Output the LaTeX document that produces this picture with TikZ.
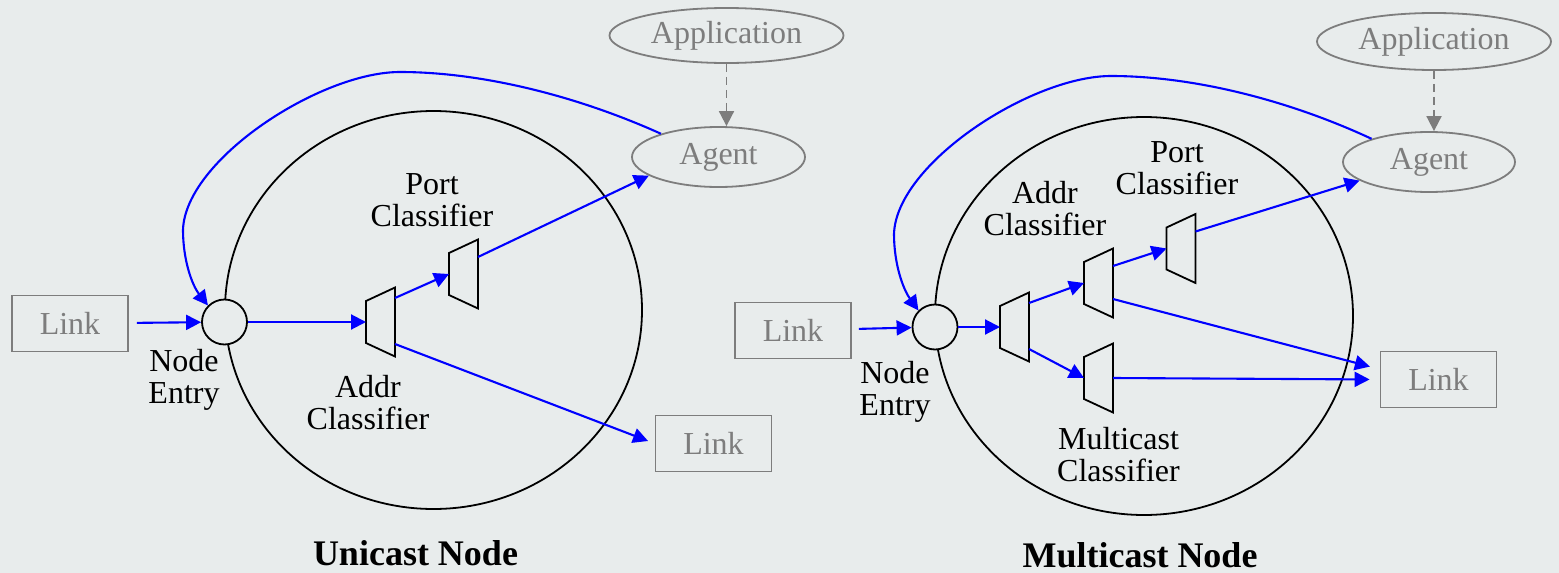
\documentclass[tikz,border=0pt]{standalone}
\usepackage{fontspec}
\setmainfont{Liberation Serif}
\usetikzlibrary{shapes.geometric,arrows.meta,calc}
\definecolor{bgc}{RGB}{232,236,236}
\definecolor{grayc}{RGB}{125,125,125}
\definecolor{flowc}{RGB}{0,0,255}
\tikzset{
  lw/.style={line width=1.8pt},
  bigring/.style={ellipse,draw=black,lw,inner sep=0pt},
  entryc/.style={circle,draw=black,fill=bgc,lw,minimum size=45pt,inner sep=0pt},
  linkbox/.style={draw=grayc,text=grayc,lw,minimum width=116pt,minimum height=56pt,inner sep=0pt,font=\fontsize{32}{32}\selectfont},
  grayell/.style={ellipse,draw=grayc,text=grayc,lw,inner sep=0pt,font=\fontsize{32}{32}\selectfont},
  flow/.style={draw=flowc,line width=2.1pt,-{Triangle[length=15pt,width=15pt]}},
  dashflow/.style={draw=grayc,lw,dash pattern=on 8pt off 5pt,-{Triangle[length=15pt,width=15pt]}},
  trapline/.style={draw=black,lw,line join=miter},
  lbl/.style={align=center,inner sep=0pt,font=\fontsize{32}{32}\selectfont},
  ttl/.style={anchor=base,inner sep=0pt,font=\fontsize{36}{40}\selectfont\bfseries},
  trap/.pic={
    \draw[trapline] (-14.5,-21) -- (14.5,-34.5) -- (14.5,34.5) -- (-14.5,21) -- cycle;
    \coordinate (-in) at (-14.5,0);
    \coordinate (-ua) at (14.5,-24);
    \coordinate (-da) at (14.5,22);
    \coordinate (-up) at (14.5,-17);
    \coordinate (-dn) at (14.5,16);
    \coordinate (-mid) at (14.5,0);
  }
}
\begin{document}
\begin{tikzpicture}[x=1pt,y=-1pt]
\path[use as bounding box,fill=bgc] (0,0) rectangle (1559,573);

% ---------------- Unicast node ----------------
\node[bigring,minimum width=417pt,minimum height=398pt] (lring) at (433.5,310) {};
\node[entryc] (lentry) at (224.5,322) {};
\node[linkbox] (link1) at (70,323.5) {Link};
\node[linkbox] (link2) at (713.5,443.5) {Link};
\node[grayell,minimum width=234pt,minimum height=55pt] (lapp) at (726.5,35.5) {Application};
\node[grayell,minimum width=173pt,minimum height=60pt] (lagent) at (718.5,157) {Agent};
\pic (la) at (380.5,322) {trap};
\pic (lp) at (463.5,274) {trap};

\node[lbl] (lentrylbl) at (184,379.5) {Node\\Entry};
\node[lbl] (lportlbl) at (432,200) {Port\\Classifier};
\node[lbl] (laddrlbl) at (368,403) {Addr\\Classifier};
\node[ttl] (ltitle) at (415.5,565) {Unicast Node};

\draw[flow,shorten <=8pt] (link1) -- (lentry);
\draw[flow] (lentry) -- (la-in);
\draw[flow] (la-ua) -- (lp-in);
\draw[flow] (lp-up) -- (lagent.195);
\draw[flow,shorten >=7pt] (la-da) -- (link2.west);
\draw[dashflow] (lapp.south) -- (lapp.south |- lagent.north);
\draw[flow] (lagent.158) .. controls (575,95) and (480,72) .. (400,72)
  .. controls (320,72) and (185,160) .. (183,230)
  .. controls (183,260) and (192,285) .. (lentry.135);

% ---------------- Multicast node ----------------
\node[bigring,minimum width=418pt,minimum height=398pt] (rring) at (1144,316) {};
\node[entryc] (rentry) at (935,327) {};
\node[linkbox] (link3) at (793,330.5) {Link};
\node[linkbox] (link4) at (1438.5,379.5) {Link};
\node[grayell,minimum width=234pt,minimum height=57pt] (rapp) at (1434,41.5) {Application};
\node[grayell,minimum width=172pt,minimum height=60pt] (ragent) at (1429,162) {Agent};
\pic (ra) at (1014.5,327) {trap};
\pic (ru) at (1098.5,283) {trap};
\pic (rl) at (1098.5,378) {trap};
\pic (rp) at (1181,248.5) {trap};

\node[lbl] (rentrylbl) at (895,391.5) {Node\\Entry};
\node[lbl] (raddrlbl) at (1045,209) {Addr\\Classifier};
\node[lbl] (rportlbl) at (1177,168) {Port\\Classifier};
\node[lbl] (rmultlbl) at (1118.5,455) {Multicast\\Classifier};
\node[ttl] (rtitle) at (1140,567) {Multicast Node};

\draw[flow,shorten <=7pt] (link3) -- (rentry);
\draw[flow] (rentry) -- (ra-in);
\draw[flow] (ra-ua) -- (ru-in);
\draw[flow] (ra-da) -- (rl-in);
\draw[flow] (ru-up) -- (rp-in);
\draw[flow] (rp-up) -- (ragent.195);
\draw[flow,shorten >=10pt] (ru-dn) -- (link4.170);
\draw[flow,shorten >=10pt] (rl-mid) -- (link4.west);
\draw[dashflow] (rapp.south) -- (rapp.south |- ragent.north);
\draw[flow] (ragent.158) .. controls (1286,99) and (1191,76) .. (1111,76)
  .. controls (1031,76) and (896,164) .. (894,234)
  .. controls (894,264) and (903,289) .. (rentry.135);
\end{tikzpicture}
\end{document}
